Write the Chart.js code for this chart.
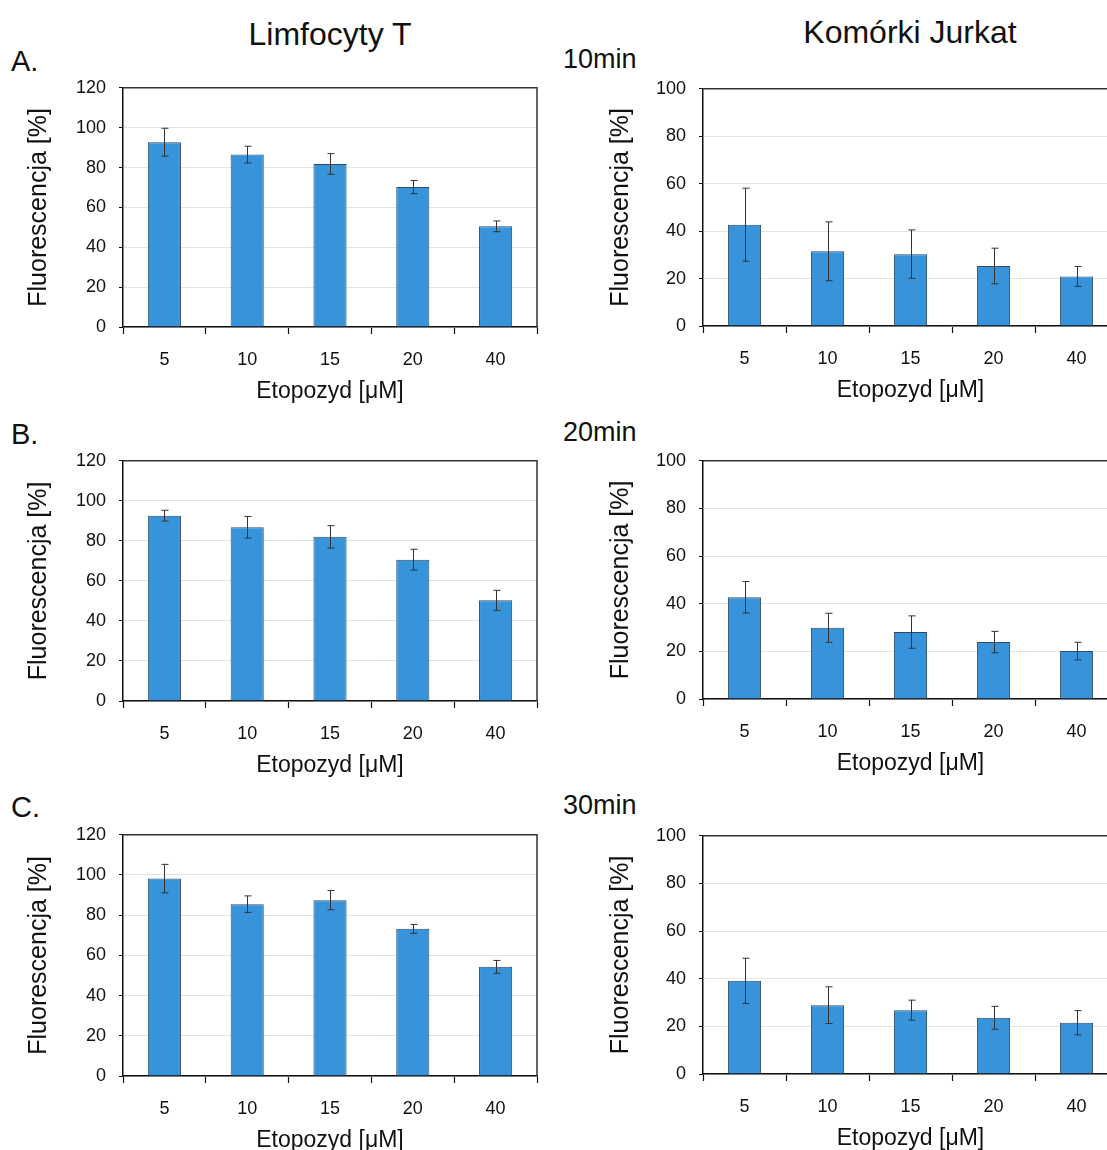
<!DOCTYPE html>
<html lang="pl">
<head>
<meta charset="utf-8">
<title>Fluorescencja – etopozyd</title>
<script src="https://cdn.jsdelivr.net/npm/chart.js@4.4.1/dist/chart.umd.min.js"></script>
<style>
  html, body { margin: 0; padding: 0; background: #fff; overflow: hidden; }
  #strona { position: relative; width: 1107px; height: 1150px; overflow: hidden; font-family: "Liberation Sans", Arial, sans-serif; color: #111; }
  .napis { position: absolute; white-space: nowrap; line-height: 1; }
  canvas { position: absolute; }
</style>
</head>
<body>
<div id="strona">
  <div class="napis" id="tytulLimf">Limfocyty T</div>
  <div class="napis" id="tytulJurkat">Komórki Jurkat</div>
  <div class="napis litera" id="litA">A.</div>
  <div class="napis litera" id="litB">B.</div>
  <div class="napis litera" id="litC">C.</div>
  <div class="napis czas" id="czas10">10min</div>
  <div class="napis czas" id="czas20">20min</div>
  <div class="napis czas" id="czas30">30min</div>

  <canvas id="limf10"></canvas>
  <canvas id="jurkat10"></canvas>
  <canvas id="limf20"></canvas>
  <canvas id="jurkat20"></canvas>
  <canvas id="limf30"></canvas>
  <canvas id="jurkat30"></canvas>
</div>

<script>
// stężenia etopozydu [µM]
const stezenia = ["5", "10", "15", "20", "40"];

// limfocyty T – średnia fluorescencja i odchylenie
const limf10 = [92.7, 86.5, 81.8, 70.2, 50.5];
const limf10Err = [7.0, 4.2, 5.2, 3.3, 2.7];
const limf20 = [92.6, 86.8, 82.0, 70.6, 50.3];
const limf20Err = [2.7, 5.4, 5.6, 5.2, 5.0];
const limf30 = [98.2, 85.5, 87.5, 73.2, 54.3];
const limf30Err = [7.1, 4.1, 4.8, 2.2, 3.2];

// komórki Jurkat
const jurkat10 = [42.7, 31.5, 30.3, 25.3, 20.9];
const jurkat10Err = [15.4, 12.4, 10.2, 7.5, 4.2];
const jurkat20 = [42.7, 29.9, 28.1, 23.9, 20.1];
const jurkat20Err = [6.6, 6.1, 6.8, 4.5, 3.7];
const jurkat30 = [39.1, 28.9, 26.8, 23.6, 21.5];
const jurkat30Err = [9.5, 7.7, 4.2, 4.8, 5.1];

const maxLimf = 120;
const maxJurkat = 100;
const krokY = 20;

Chart.defaults.font.family = '"Liberation Sans", Arial, sans-serif';
Chart.defaults.color = "#111";

// naglowki i litery
function ustaw(id, x, baseline, size, center) {
  const el = document.getElementById(id);
  el.style.fontSize = size + "px";
  el.style.top = baseline - 0.8465 * size + "px";
  el.style.left = x + "px";
  if (center) el.style.transform = "translateX(-50%)";
}
ustaw("tytulLimf", 330, 45, 32, true);
ustaw("tytulJurkat", 910, 43, 32, true);
ustaw("litA", 11, 72, 29);
ustaw("litB", 11, 445, 29);
ustaw("litC", 11, 818, 29);
ustaw("czas10", 563, 69, 27);
ustaw("czas20", 563, 442, 27);
ustaw("czas30", 563, 815, 27);

// slupki bledow + ramka wykresu
const bledyPlugin = {
  id: "bledy",
  afterDatasetsDraw(chart) {
    const ctx = chart.ctx;
    const y = chart.scales.y;
    const meta = chart.getDatasetMeta(0);
    const bledy = chart.data.datasets[0].bledy;
    const wartosci = chart.data.datasets[0].data;
    ctx.save();
    ctx.strokeStyle = "#333";
    ctx.lineWidth = 1;
    meta.data.forEach((bar, i) => {
      const x = Math.round(bar.x) + 0.5;
      const gora = y.getPixelForValue(wartosci[i] + bledy[i]);
      const dol = y.getPixelForValue(wartosci[i] - bledy[i]);
      ctx.beginPath();
      ctx.moveTo(x, gora);
      ctx.lineTo(x, dol);
      ctx.moveTo(x - 3, gora);
      ctx.lineTo(x + 4, gora);
      ctx.moveTo(x - 3, dol);
      ctx.lineTo(x + 4, dol);
      ctx.stroke();
    });
    // gorna i prawa krawedz
    const a = chart.chartArea;
    ctx.strokeStyle = "#333";
    ctx.lineWidth = 1.5;
    ctx.beginPath();
    ctx.moveTo(a.left, a.top);
    ctx.lineTo(a.right, a.top);
    ctx.lineTo(a.right, a.bottom);
    ctx.stroke();
    ctx.restore();
  },
};

const wysOsiX = 83;

function utworzWykres(id, wartosci, bledy, maxY, uklad) {
  const canvas = document.getElementById(id);
  canvas.width = 560;
  canvas.height = uklad.bottom - uklad.top + 24 + wysOsiX;
  canvas.style.left = uklad.left + "px";

  const w = new Chart(canvas, {
    type: "bar",
    data: {
      labels: stezenia,
      datasets: [
        {
          data: wartosci,
          bledy: bledy,
          backgroundColor: "#3794db",
          borderColor: "#2b4a68",
          borderWidth: 1,
          categoryPercentage: 1,
          barPercentage: 0.4,
        },
      ],
    },
    options: {
      responsive: false,
      animation: false,
      devicePixelRatio: 1,
      layout: {
        padding: { top: 0, right: uklad.padRight, left: 0, bottom: 0 },
      },
      plugins: {
        legend: { display: false },
        tooltip: { enabled: false },
      },
      scales: {
        x: {
          afterFit: (s) => { s.height = wysOsiX; },
          grid: {
            offset: true,
            drawOnChartArea: false,
            drawTicks: true,
            tickLength: 7,
            tickColor: "#111",
            tickWidth: 1.2,
          },
          border: { color: "#111", width: 1.5 },
          ticks: { padding: 15, font: { size: 18 }, color: "#111" },
          title: {
            display: true,
            text: "Etopozyd [μM]",
            font: { size: 23 },
            color: "#111",
            padding: { top: 0, bottom: 5 },
          },
        },
        y: {
          min: 0,
          max: maxY,
          afterFit: (s) => { s.width = uklad.yWidth; },
          grid: {
            color: "#e4e4e4",
            lineWidth: 1,
            tickLength: 4,
            tickColor: "#111",
          },
          border: { color: "#111", width: 1.5 },
          ticks: { stepSize: krokY, padding: 13, font: { size: 18 }, color: "#111" },
          title: {
            display: true,
            text: "Fluorescencja [%]",
            font: { size: 25 },
            color: "#111",
            padding: { top: uklad.titlePad, bottom: 0 },
          },
        },
      },
    },
    plugins: [bledyPlugin],
  });

  // przesuniecie plotna tak, aby obszar wykresu zaczynal sie na uklad.top
  canvas.style.top = uklad.top - w.chartArea.top + "px";
  return w;
}

utworzWykres("limf10", limf10, limf10Err, maxLimf,
  { left: 0, top: 88, bottom: 327, padRight: 23, yWidth: 123, titlePad: 24 });
utworzWykres("jurkat10", jurkat10, jurkat10Err, maxJurkat,
  { left: 580, top: 89, bottom: 326, padRight: 22, yWidth: 123, titlePad: 26 });
utworzWykres("limf20", limf20, limf20Err, maxLimf,
  { left: 0, top: 461, bottom: 701, padRight: 23, yWidth: 123, titlePad: 24 });
utworzWykres("jurkat20", jurkat20, jurkat20Err, maxJurkat,
  { left: 580, top: 461, bottom: 699, padRight: 22, yWidth: 123, titlePad: 26 });
utworzWykres("limf30", limf30, limf30Err, maxLimf,
  { left: 0, top: 835, bottom: 1076, padRight: 23, yWidth: 123, titlePad: 24 });
utworzWykres("jurkat30", jurkat30, jurkat30Err, maxJurkat,
  { left: 580, top: 836, bottom: 1074, padRight: 22, yWidth: 123, titlePad: 26 });
</script>
</body>
</html>
